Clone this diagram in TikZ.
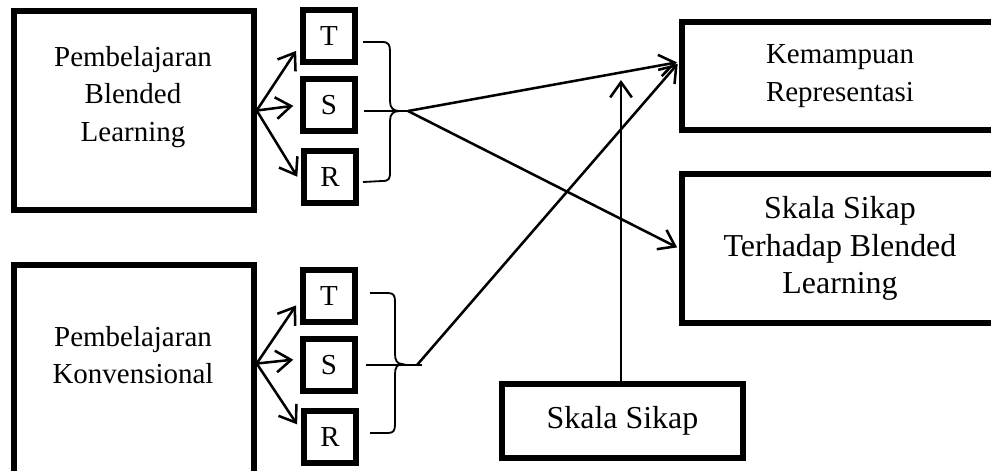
\documentclass[tikz,border=0pt]{standalone}
\usepackage{fontspec}
\setmainfont{Liberation Serif}
\usetikzlibrary{positioning,arrows.meta,calc}
\tikzset{
  lbl/.style={font=\fontsize{20.6}{26.5}\selectfont, align=center, inner sep=0pt},
  lblbig/.style={font=\fontsize{22.7}{26.5}\selectfont, align=center, inner sep=0pt},
  bigbox/.style={draw, line width=3.8pt, inner sep=0pt},
}

\begin{document}
\begin{tikzpicture}[x=0.025cm, y=-0.025cm,
  letbox/.style={draw, line width=4.8pt, minimum width=1.3cm, minimum height=1.3cm, inner sep=0pt, lbl},
  outbox/.style={bigbox, minimum width=7.9cm},
  arw/.style={-{Straight Barb[length=3.8mm,width=5.4mm]}, line width=1.8pt},
  brc/.style={line width=1.3pt}]
\useasboundingbox (0,0) rectangle (991,470);
\clip (0,0) rectangle (991,470);
% left boxes
\node[bigbox, minimum width=6cm, minimum height=4.975cm] (blend) at (134,110.5) {};
\node[lbl] (blendtxt) at (133,97) {Pembelajaran\\Blended\\Learning};
\node[bigbox, minimum width=6cm, minimum height=5.225cm] (konv) at (134,369.5) {};
\node[lbl] (konvtxt) at (133,355) {Pembelajaran\\Konvensional};
% T S R
\node[letbox] (t1) at (329,36) {T};
\node[letbox] (s1) at (329,105) {S};
\node[letbox] (r1) at (330,177) {R};
\node[letbox] (t2) at (329,296) {T};
\node[letbox] (s2) at (329,365) {S};
\node[letbox] (r2) at (330,437) {R};
% right boxes
\node[outbox, lbl, minimum height=2.7cm] (kemamp) at (840,76) {Kemampuan\\Representasi};
\node[outbox, lblbig, minimum height=3.725cm] (sikapbl) at (840,248.5) {Skala Sikap\\Terhadap Blended\\Learning};
\node[bigbox, lblbig, minimum width=6.025cm, minimum height=1.85cm] (sikap) at (622.5,421) {Skala Sikap};
\coordinate (tipA) at (408,111);
\coordinate (tipB) at (417,365);
\coordinate (skTop) at (621,80);
% arrows to T S R
\draw[arw, shorten >=1.6mm] (blend.east) -- (t1.198);
\draw[arw, shorten >=1.6mm] (blend.east) -- (s1.west);
\draw[arw, shorten >=1.6mm] (blend.east) -- (r1.190);
\draw[arw, shorten >=1.6mm] ([yshift=0.15cm]konv.east) -- (t2.188);
\draw[arw, shorten >=1.6mm] ([yshift=0.15cm]konv.east) -- ([yshift=0.15cm]s2.west);
\draw[arw, shorten >=1.6mm] ([yshift=0.15cm]konv.east) -- (r2.166);
% braces
\draw[brc] (363,42) -- (382,42) .. controls (389,42) and (390,45) .. (390,52) -- (390,101)
  .. controls (390,108) and (393,111) .. (400,111) .. controls (393,111) and (390,114) .. (390,121)
  -- (390,172) .. controls (390,179) and (389,181) .. (382,181) -- (363,182);
\draw[brc] (370,293) -- (388,293) .. controls (394,293) and (395,296) .. (395,302) -- (395,354)
  .. controls (395,360) and (397,364) .. (402,364) .. controls (397,364) and (395,368) .. (395,374)
  -- (395,424) .. controls (395,430) and (394,433) .. (388,433) -- (370,433);
\draw[line width=1.8pt, shorten <=1.5mm] (s1.east |- tipA) -- ([xshift=0.05cm]tipA);
\draw[line width=1.8pt, shorten <=2mm] (s2.east |- tipB) -- ([xshift=0.13cm]tipB);
% to outcomes
\draw[arw, shorten >=0.6mm] (tipA) -- (kemamp.175);
\draw[arw, shorten >=0.6mm] (tipA) -- (sikapbl.west);
\draw[arw, shorten >=0.6mm] (tipB) -- (kemamp.175);
\draw[arw] (sikap.north -| skTop) -- (skTop);
\end{tikzpicture}
\end{document}
